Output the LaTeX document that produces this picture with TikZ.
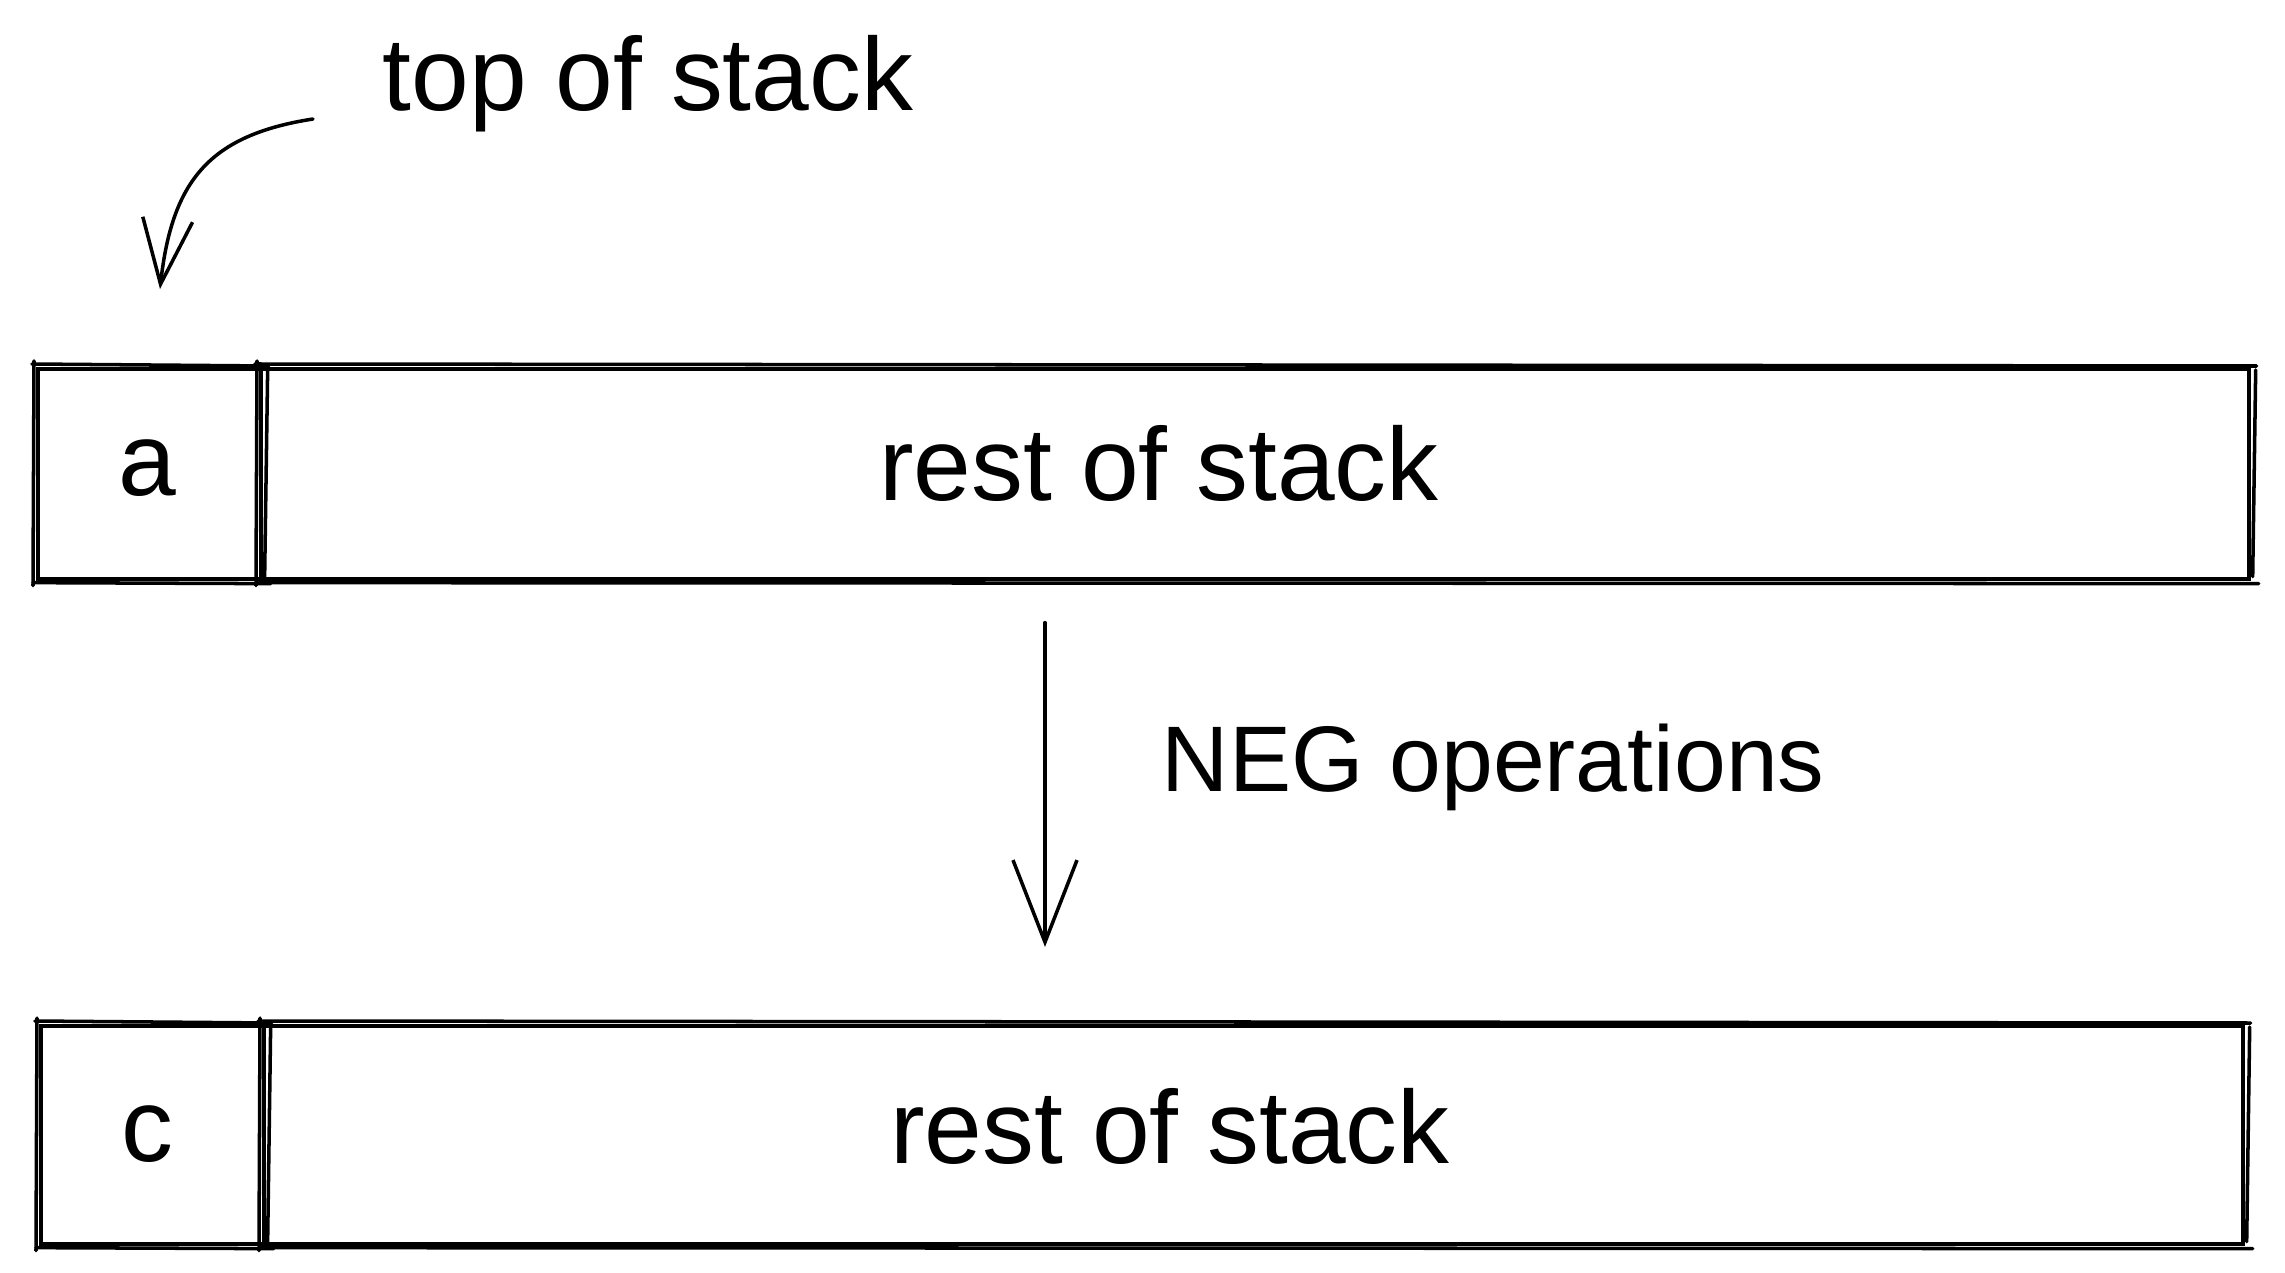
\documentclass[tikz,border=0pt]{standalone}
\usepackage{fontspec}
\setmainfont{Liberation Sans}
\usetikzlibrary{arrows.meta,calc}
% second, slightly offset stroke round a node, for a hand-drawn look
\newcommand\roughpass[1]{%
  \draw[ink] ([shift={(-4,-3)}]#1.north west) -- ([shift={(6,-1)}]#1.north east);
  \draw[ink] ([shift={(5,3)}]#1.north east) -- ([shift={(2,-4)}]#1.south east);
  \draw[ink] ([shift={(8,3)}]#1.south east) -- ([shift={(-3,2)}]#1.south west);
  \draw[ink] ([shift={(-3,5)}]#1.south west) -- ([shift={(-2,-6)}]#1.north west);
}
\begin{document}
\begin{tikzpicture}[x=0.01cm,y=-0.01cm,
  ink/.style={line width=1pt, black, line cap=round},
  cell/.style={ink, draw, inner sep=0pt, anchor=north west},
  word/.style={font=\fontsize{29.5}{34}\selectfont, inner sep=0pt},
  flow/.style={ink, -{Straight Barb[length=0.82cm, width=0.64cm, line width=1pt]}},
  hint/.style={ink, -{Straight Barb[length=0.65cm, width=0.5cm, line width=1pt]}}]
\useasboundingbox (0,0) rectangle (2285,1273);

% stack before
\node[cell, minimum width=2.23cm, minimum height=2.10cm] (cellA) at (36,367) {};
\node[cell, minimum width=19.87cm, minimum height=2.10cm] (restA) at (259,367) {};
\roughpass{cellA}
\roughpass{restA}
\node[word, anchor=base] (txtA) at (147,495) {a};
\node[word, anchor=base] (txtRestA) at (1159,500) {rest of stack};

% stack after
\node[cell, minimum width=2.23cm, minimum height=2.18cm] (cellC) at (39,1024) {};
\node[cell, minimum width=19.78cm, minimum height=2.18cm] (restC) at (262,1024) {};
\roughpass{cellC}
\roughpass{restC}
\node[word, anchor=base] (txtC) at (147,1161) {c};
\node[word, anchor=base] (txtRestC) at (1170,1163) {rest of stack};

% annotation for the top element
\node[word, anchor=base] (tos) at (648,111) {top of stack};
\coordinate (tosFrom) at (313,119);
\coordinate (tosTo) at (160,289);
\draw[hint] (tosFrom) .. controls (210,135) and (172,180) .. (tosTo);

% operation between the two states
\coordinate (stem) at (1045,0);
\draw[flow, shorten <=0.42cm, shorten >=0.77cm] (restA.south -| stem) -- (restC.north -| stem);
\node[word, font=\fontsize{26.5}{30}\selectfont, anchor=base west] (op) at (1161,791) {NEG operations};
\end{tikzpicture}
\end{document}
